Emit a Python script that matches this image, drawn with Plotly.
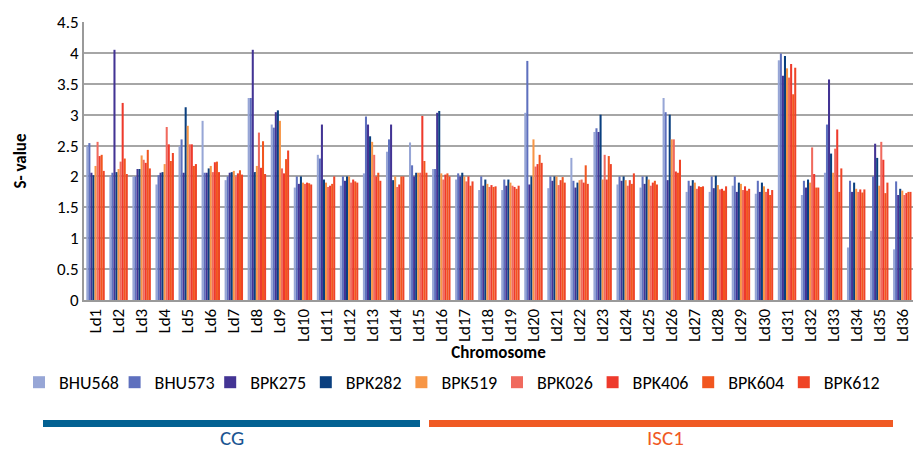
import plotly.graph_objects as go

categories = [f"Ld{i}" for i in range(1, 37)]

series_names = ["BHU568", "BHU573", "BPK275", "BPK282", "BPK519",
                "BPK026", "BPK406", "BPK604", "BPK612"]

BHU568 = [2.50, 2.00, 2.00, 1.87, 2.49, 2.90, 1.94, 3.27, 2.84, 1.82, 2.35, 1.85,
          2.05, 2.40, 2.55, 2.12, 1.95, 1.78, 1.78, 3.03, 1.81, 2.30, 2.72, 1.87,
          1.82, 3.27, 1.75, 1.75, 1.85, 1.72, 3.88, 1.70, 2.06, 0.85, 1.12, 0.82]
BHU573 = [2.54, 2.06, 2.00, 2.02, 2.60, 2.06, 2.00, 3.27, 2.79, 2.00, 2.29, 2.00,
          2.97, 2.60, 2.18, 2.12, 2.05, 2.00, 1.95, 3.87, 2.00, 1.93, 2.78, 2.00,
          2.00, 3.04, 1.93, 2.00, 2.00, 1.93, 3.99, 1.93, 2.84, 1.93, 2.00, 1.92]
BPK275 = [2.06, 4.05, 2.12, 2.06, 2.06, 2.06, 2.06, 4.05, 3.04, 1.88, 2.84, 1.93,
          2.84, 2.84, 2.00, 3.03, 2.00, 1.85, 1.85, 1.87, 1.93, 1.82, 2.72, 1.93,
          1.88, 1.94, 1.85, 1.81, 1.75, 1.75, 3.63, 1.82, 3.57, 1.75, 2.53, 1.70]
BPK282 = [2.02, 2.07, 2.12, 2.07, 3.12, 2.13, 2.07, 2.07, 3.07, 2.00, 1.95, 2.00,
          2.65, 1.94, 2.06, 3.06, 2.06, 1.95, 1.95, 2.00, 2.00, 1.90, 3.00, 2.00,
          2.00, 3.00, 1.94, 2.01, 1.90, 1.90, 3.95, 1.95, 2.37, 1.90, 2.30, 1.80]
BPK519 = [2.17, 2.12, 2.34, 2.20, 2.82, 2.17, 2.09, 2.17, 2.90, 1.90, 1.90, 2.00,
          2.56, 2.00, 2.06, 2.05, 2.00, 1.88, 1.90, 2.60, 2.00, 1.94, 1.95, 1.94,
          1.95, 2.60, 1.90, 1.86, 1.88, 1.84, 3.75, 1.90, 2.06, 1.80, 1.85, 1.77]
BPK026 = [2.56, 2.24, 2.27, 2.80, 2.52, 2.07, 2.00, 2.71, 2.13, 1.88, 1.83, 1.90,
          2.35, 1.83, 2.06, 1.95, 1.92, 1.83, 1.85, 2.16, 1.86, 1.95, 2.35, 1.85,
          1.85, 2.60, 1.80, 1.79, 1.78, 1.75, 3.60, 2.47, 2.45, 1.75, 2.56, 1.70]
BPK406 = [2.33, 3.19, 2.22, 2.52, 2.52, 2.23, 2.05, 2.14, 2.05, 1.90, 1.85, 1.95,
          2.00, 1.87, 2.98, 2.03, 2.00, 1.86, 1.83, 2.20, 1.94, 1.90, 1.95, 1.94,
          1.90, 2.08, 1.84, 1.80, 1.84, 1.80, 3.82, 2.04, 2.76, 1.79, 2.27, 1.73]
BPK604 = [2.35, 2.29, 2.43, 2.25, 2.17, 2.24, 2.10, 2.57, 2.28, 1.89, 1.88, 1.92,
          2.06, 2.00, 2.25, 2.05, 1.85, 1.83, 1.80, 2.35, 1.99, 2.18, 2.33, 1.88,
          1.93, 2.06, 1.83, 1.77, 1.77, 1.70, 3.33, 1.82, 1.75, 1.74, 1.73, 1.75]
BPK612 = [2.09, 2.04, 2.13, 2.38, 2.20, 2.07, 2.03, 2.04, 2.42, 1.87, 2.00, 1.90,
          1.93, 2.00, 2.06, 2.00, 1.92, 1.84, 1.85, 2.22, 1.90, 1.88, 2.20, 2.05,
          1.87, 2.27, 1.84, 1.84, 1.80, 1.78, 3.76, 1.82, 2.13, 1.79, 1.90, 1.75]

series_values = [BHU568, BHU573, BPK275, BPK282, BPK519, BPK026, BPK406, BPK604, BPK612]
colors = ["#97A6D6", "#5E70BE", "#433494", "#0A3F7F", "#F79646",
          "#F06A5E", "#EE3A2C", "#F1561F", "#EF4426"]

y_ticks = [0, 0.5, 1, 1.5, 2, 2.5, 3, 3.5, 4, 4.5]
group_labels = ["CG", "ISC1"]
group_colors = ["#036192", "#F05A24"]
group_text_colors = ["#1B5592", "#F05A24"]

FONT = "Carlito, Calibri, Lato, 'Liberation Sans', sans-serif"

W, H = 913, 453
L, R, T, B = 84, 0, 22, 153
pw = W - L - R
ph = H - T - B


def px_x(px):
    return (px - L) / pw


def px_y(py):
    return (H - B - py) / ph


fig = go.Figure()
for name, vals, col in zip(series_names, series_values, colors):
    fig.add_trace(go.Bar(name=name, x=categories, y=vals, marker_color=col,
                         marker_line_width=0))

cat_px = 23.05
fig.update_layout(
    width=W, height=H,
    margin=dict(l=L, r=R, t=T, b=B, autoexpand=False),
    paper_bgcolor="white", plot_bgcolor="white",
    barmode="group", bargap=0.2, bargroupgap=0,
    font=dict(family=FONT, size=17, color="#000000"),
    showlegend=True,
    legend=dict(orientation="h", xref="paper", yref="paper",
                x=px_x(19), xanchor="left", y=px_y(364), yanchor="top",
                entrywidth=50.6, entrywidthmode="pixels",
                font=dict(family=FONT, size=18, color="#000000"),
                itemclick=False, itemdoubleclick=False,
                bgcolor="rgba(0,0,0,0)", traceorder="normal"),
    xaxis=dict(type="category", range=[-0.5, -0.5 + pw / cat_px],
               tickangle=-90, showgrid=False, showline=True,
               linecolor="#9A9A9A", linewidth=2, ticks="", automargin=False,
               tickfont=dict(family=FONT, size=17),
               title=dict(text="<b>Chromosome</b>", standoff=0,
                          font=dict(family=FONT, size=17))),
    yaxis=dict(range=[0, 4.5], tickvals=y_ticks, ticktext=[f"{v:g}" for v in y_ticks],
               showgrid=True, gridcolor="#A6A6A6", gridwidth=2,
               showline=True, linecolor="#9A9A9A", linewidth=2,
               ticks="", automargin=False, zeroline=False,
               tickfont=dict(family=FONT, size=17),
               title=dict(text="<b>S- value</b>", standoff=26,
                          font=dict(family=FONT, size=17))),
)

# group bars and labels below legend
spans = [(43, 420), (429, 893)]
centers = [232, 665]
for (x0, x1), c, lab, tc, cx in zip(spans, group_colors, group_labels,
                                    group_text_colors, centers):
    fig.add_shape(type="rect", xref="paper", yref="paper",
                  x0=px_x(x0), x1=px_x(x1), y0=px_y(427), y1=px_y(420),
                  fillcolor=c, line_width=0)
    fig.add_annotation(xref="paper", yref="paper", x=px_x(cx), y=px_y(438),
                       text=lab, showarrow=False, xanchor="center", yanchor="middle",
                       borderpad=0,
                       font=dict(family=FONT, size=21, color=tc))

fig.write_html("out.html",
               config={"displayModeBar": False},
               post_script="document.body.style.margin='0';"
                           "document.body.style.padding='0';"
                           "document.body.style.overflow='hidden';")
